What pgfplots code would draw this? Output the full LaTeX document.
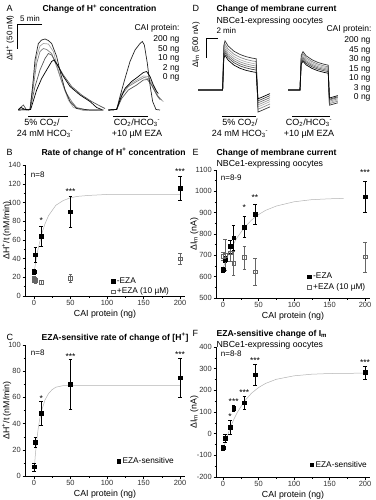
\documentclass[border=0pt]{standalone}
\usepackage{pgfplots}
\usepackage{pgfplotstable}
\pgfplotsset{compat=1.18}
\usepackage{fontspec}
\setmainfont{Liberation Sans}
\newcommand{\fs}[1]{\fontsize{#1}{#1}\selectfont}
\tikzset{sig/.style={font=\fs{8.5}, inner sep=0pt, anchor=south}}
\pgfplotstableread{
t     c200  c45   c30  c15  c10  c3   c0
0.5   0     0     0    0    0    0    0
4.6   0     0     0    0    0    0    0
4.8   1107  1035  981  927  882  837  783
5.0   1230  1150  1090 1030 980  930  870
5.5   1104  1027  967  910  860  810  750
6.5   969   895   835  781  731  681  621
7.5   888   816   756  703  653  603  543
8.5   834   763   703  652  602  552  492
9.5   798   728   668  617  567  517  457
10.2  780   710   650  600  550  500  440
10.5  -550  -480  -420 -370 -320 -270 -220
11.0  -520  -450  -390 -340 -290 -240 -190
12.5  -420  -350  -290 -240 -190 -140 -90
}\Done
\pgfplotstableread{
t     c200  c45  c30  c15  c10  c3   c0
15.5  0     0    0    0    0    0    0
17.5  0     0    0    0    0    0    0
17.7  864   819  783  747  720  684  648
18.0  960   910  870  830  800  760  720
18.5  858   811  774  737  707  670  630
19.5  756   712  678  644  614  580  540
20.5  688   646  614  582  552  520  480
21.5  644   603  572  542  512  481  441
22.2  620   580  550  520  490  460  420
22.4  -380  -340 -310 -280 -250 -230 -200
23.8  -320  -280 -250 -220 -190 -170 -140
}\Dtwo
\begin{document}
\begin{tikzpicture}
\path[use as bounding box] (0pt,0pt) rectangle (375pt,-500pt);
\pgfplotsset{
  dataax/.style={
    scale only axis, anchor=south west, clip=false,
    axis x line*=bottom, axis y line*=left,
    axis line style={black, line width=0.5pt, -},
    every outer x axis line/.append style={-},
    every outer y axis line/.append style={-},
    tick align=outside,
    major tick length=2.5pt, minor tick length=1.5pt,
    every tick/.style={black, line width=0.4pt},
    minor tick num=1,
    ticklabel style={font=\fs{7.5}, text=black!80},
    xticklabel style={inner sep=1.5pt},
    yticklabel style={inner sep=1.5pt},
    xlabel style={font=\fs{8.8}},
    every axis y label/.style={rotate=90, anchor=center, font=\fs{8.8}},
    /pgf/number format/assume math mode=true,
    /pgf/number format/1000 sep={},
    legend style={draw=none, fill=none, font=\fs{8.3}, row sep=-1pt, inner sep=1pt},
    legend cell align=left,
    xtick={0,50,...,200},
  },
  trace/.style={hide axis, scale only axis, anchor=south west, clip=false},
  fitline/.style={gray!60, line width=0.5pt, no marks, forget plot},
  filled/.style={only marks, mark=square*, mark size=1.8pt, black},
  open/.style={only marks, mark=square, mark size=1.8pt, black!60, mark options={fill=white}},
}

%%%%%%%%%%%%%%%% A
\begin{axis}[trace, at={(15pt,-115pt)}, width=150pt, height=85pt,
  xmin=0, xmax=30, ymin=-10, ymax=160]
\addplot[black!35, line width=0.7pt] coordinates {(0.67,0)(3,1)(3.67,60)(4.33,107)(5,128)(5.67,133)(6.67,132)(7.67,117)(8.67,80)(9.67,47)(10.67,20)(11.67,5)(13.67,-1)(17.67,0)};
\addplot[black!50, line width=0.7pt] coordinates {(0.67,0)(3,1)(3.67,47)(4.33,93)(5,117)(5.67,123)(6.33,121)(7.33,113)(8.33,87)(9.33,57)(10.33,33)(11.33,17)(12.33,5)(14.33,0)(17.67,0)};
\addplot[black!65, line width=0.7pt] coordinates {(0.67,1)(1.67,10)(2.33,0)(3,1)(4,47)(5,80)(6,103)(6.67,113)(7.33,110)(8.33,93)(9.67,70)(11.33,47)(13.33,30)(15.33,17)(17,8)(18,3)};
\addplot[black!85, line width=0.7pt] coordinates {(0.67,0)(3,1)(3.53,47)(4,100)(4.67,133)(5.33,140)(6,142)(6.67,139)(7.33,133)(8.33,107)(9.13,73)(10,40)(11,17)(12.33,3)(15,0)(17.67,0)};
\addplot[black, line width=0.7pt] coordinates {(0.67,0)(1.2,5)(1.8,2)(2.67,0)(3.13,1)(4.33,40)(5.33,63)(6.33,80)(7.33,97)(7.8,100)(8.67,87)(9.67,67)(11,47)(13,30)(15,17)(16.33,5)(17.33,1)};
% second pulse
\addplot[black!35, line width=0.7pt] coordinates {(18.67,0)(20.33,1)(21.33,33)(22.67,50)(24.33,60)(25.67,68)(26.67,67)(27.67,47)(28.67,25)(29.67,17)};
\addplot[black!50, line width=0.7pt] coordinates {(18.67,0)(20.33,1)(21.33,30)(22.67,47)(24.33,57)(25.8,65)(26.67,63)(27.67,43)(28.67,27)(29.33,20)};
\addplot[black!65, line width=0.7pt] coordinates {(18.67,0)(20.33,1)(21.33,23)(22.67,40)(24.33,50)(25.67,60)(26.47,61)(27.33,50)(28.33,30)(29,21)};
\addplot[black!85, line width=0.7pt] coordinates {(18.67,0)(20.33,1)(21,27)(22,63)(23,97)(24,120)(25,133)(25.47,137)(25.87,130)(26.47,93)(27,50)(27.53,17)(28.2,1)(29,0)};
\addplot[black, line width=0.7pt] coordinates {(18.67,0)(20.33,1)(21,20)(22,43)(23.33,57)(24.67,67)(25.67,75)(26.33,77)(27,67)(27.67,50)(28.33,37)(28.67,33)};
% scale bar and application bars
\draw[black, line width=0.5pt] (axis cs:5.4,172) -- (axis cs:0.4,172) -- (axis cs:0.4,122);
\draw[black, line width=0.5pt] (axis cs:2.6,-12) -- (axis cs:10.6,-12);
\draw[black, line width=0.5pt] (axis cs:19.6,-12) -- (axis cs:26.6,-12);
\end{axis}
\node[anchor=base west, font=\fs{9}] at (3pt,-12pt) {A};
\node[anchor=base west, font=\fs{8.6}\bfseries] at (39pt,-12pt) {Change of H\textsuperscript{+} concentration};
\node[anchor=base, font=\fs{8}] at (30pt,-22pt) {5 min};
\node[rotate=90, font=\fs{8}] at (10pt,-38pt) {ΔH\textsuperscript{+} (50 nM)};
\node[anchor=base east, font=\fs{8.5}] at (183pt,-31pt) {CAI protein:};
\node[anchor=base east, font=\fs{8.5}] at (183pt,-42pt) {200 ng};
\node[anchor=base east, font=\fs{8.5}] at (183pt,-51.5pt) {50 ng};
\node[anchor=base east, font=\fs{8.5}] at (183pt,-61pt) {10 ng};
\node[anchor=base east, font=\fs{8.5}] at (183pt,-70.5pt) {2 ng};
\node[anchor=base east, font=\fs{8.5}] at (183pt,-80pt) {0 ng};
\node[anchor=base, font=\fs{9}] at (42pt,-125pt) {5\% CO\textsubscript{2}/};
\node[anchor=base, font=\fs{9}] at (45pt,-136pt) {24 mM HCO\textsubscript{3}\textsuperscript{-}};
\node[anchor=base, font=\fs{9}] at (137pt,-125pt) {CO\textsubscript{2}/HCO\textsubscript{3}\textsuperscript{-}};
\node[anchor=base, font=\fs{9}] at (137pt,-136pt) {+10 µM EZA};

%%%%%%%%%%%%%%%% D
\begin{axis}[trace, at={(195pt,-120pt)}, width=150pt, height=90pt,
  xmin=0, xmax=25, ymin=-750, ymax=1500]
\addplot[black!30, line width=0.7pt] table[x=t,y=c30] {\Done};
\addplot[black!40, line width=0.7pt] table[x=t,y=c15] {\Done};
\addplot[black!45, line width=0.7pt] table[x=t,y=c45] {\Done};
\addplot[black!55, line width=0.7pt] table[x=t,y=c10] {\Done};
\addplot[black!70, line width=0.7pt] table[x=t,y=c3] {\Done};
\addplot[black!80, line width=0.7pt] table[x=t,y=c200] {\Done};
\addplot[black, line width=0.7pt] table[x=t,y=c0] {\Done};
\addplot[black!30, line width=0.7pt] table[x=t,y=c30] {\Dtwo};
\addplot[black!40, line width=0.7pt] table[x=t,y=c15] {\Dtwo};
\addplot[black!45, line width=0.7pt] table[x=t,y=c45] {\Dtwo};
\addplot[black!55, line width=0.7pt] table[x=t,y=c10] {\Dtwo};
\addplot[black!70, line width=0.7pt] table[x=t,y=c3] {\Dtwo};
\addplot[black!80, line width=0.7pt] table[x=t,y=c200] {\Dtwo};
\addplot[black, line width=0.7pt] table[x=t,y=c0] {\Dtwo};
\draw[black, line width=0.5pt] (axis cs:3.83,1300) -- (axis cs:1.83,1300) -- (axis cs:1.83,800);
\draw[black, line width=0.5pt] (axis cs:4.5,-650) -- (axis cs:10.2,-650);
\draw[black, line width=0.5pt] (axis cs:16.2,-650) -- (axis cs:22.5,-650);
\end{axis}
\node[anchor=base west, font=\fs{9}] at (189pt,-12pt) {D};
\node[anchor=base west, font=\fs{8.6}\bfseries] at (213pt,-12pt) {Change of membrane current};
\node[anchor=base west, font=\fs{8.8}] at (213pt,-23.5pt) {NBCe1-expressing oocytes};
\node[anchor=base west, font=\fs{8}] at (213pt,-34pt) {2 min};
\node[rotate=90, font=\fs{8}] at (196pt,-45pt) {ΔI\textsubscript{m} (500 nA)};
\node[anchor=base east, font=\fs{8.5}] at (375pt,-32pt) {CAI protein:};
\node[anchor=base east, font=\fs{8.5}] at (374pt,-43pt) {200 ng};
\node[anchor=base east, font=\fs{8.5}] at (374pt,-52.5pt) {45 ng};
\node[anchor=base east, font=\fs{8.5}] at (374pt,-62pt) {30 ng};
\node[anchor=base east, font=\fs{8.5}] at (374pt,-71.5pt) {15 ng};
\node[anchor=base east, font=\fs{8.5}] at (374pt,-81pt) {10 ng};
\node[anchor=base east, font=\fs{8.5}] at (374pt,-90.5pt) {3 ng};
\node[anchor=base east, font=\fs{8.5}] at (374pt,-100pt) {0 ng};
\node[anchor=base, font=\fs{9}] at (240pt,-125pt) {5\% CO\textsubscript{2}/};
\node[anchor=base, font=\fs{9}] at (240pt,-136pt) {24 mM HCO\textsubscript{3}\textsuperscript{-}};
\node[anchor=base, font=\fs{9}] at (309pt,-125pt) {CO\textsubscript{2}/HCO\textsubscript{3}\textsuperscript{-}};
\node[anchor=base, font=\fs{9}] at (309pt,-136pt) {+10 µM EZA};

%%%%%%%%%%%%%%%% B
\begin{axis}[dataax, at={(25pt,-296pt)}, width=160pt, height=131pt,
  xmin=-12.3, xmax=206.8, ymin=0, ymax=140, ytick={0,20,...,140},
  xlabel={CAI protein (ng)}, ylabel={ΔH\textsuperscript{+}/t (nM/min)},
  ylabel style={at={(axis description cs:-0.115,0.5)}},
  legend style={at={(0.92,-0.02)}, anchor=south east}]
\addplot[fitline] coordinates {(0,25)(5,48)(10,65)(15,77)(20,86)(30,97)(40,102)(50,105)(60,106.5)(75,107.5)(100,108.5)(150,108.7)(200,108.7)};
\addplot[filled, error bars/.cd, y dir=both, y explicit] coordinates {(0,26)+-(0,3) (2,44)+-(0,8) (10,64)+-(0,11) (50,90)+-(0,17) (200,115)+-(0,13)};
\addlegendentry{-EZA}
\addplot[open, error bars/.cd, y dir=both, y explicit] coordinates {(0,18)+-(0,3) (2,17)+-(0,3) (10,15)+-(0,2) (50,19)+-(0,4) (200,40)+-(0,6)};
\addlegendentry{+EZA (10 µM)}
\node[sig] at (axis cs:10,77) {*};
\node[sig] at (axis cs:50,108) {***};
\node[sig] at (axis cs:200,130) {***};
\node[anchor=west, font=\fs{8}] at (axis cs:-9,130) {n=8};
\end{axis}
\node[anchor=base west, font=\fs{9}] at (3pt,-155pt) {B};
\node[anchor=base west, font=\fs{8.6}\bfseries] at (38pt,-155pt) {Rate of change of H\textsuperscript{+} concentration};

%%%%%%%%%%%%%%%% C
\begin{axis}[dataax, at={(25pt,-476pt)}, width=160pt, height=131pt,
  xmin=-12.3, xmax=206.8, ymin=0, ymax=100, ytick={0,20,...,100},
  xlabel={CAI protein (ng)}, ylabel={ΔH\textsuperscript{+}/t (nM/min)},
  ylabel style={at={(axis description cs:-0.115,0.5)}},
  legend style={at={(0.95,0.06)}, anchor=south east}]
\addplot[fitline] coordinates {(0,3)(2,17)(4,28)(6,37)(8,44)(10,49)(15,58)(20,63)(25,66)(30,67.8)(40,69)(50,69)(100,69)(200,69)};
\addplot[filled, error bars/.cd, y dir=both, y explicit] coordinates {(0,7)+-(0,3) (2,26)+-(0,4) (10,48)+-(0,9) (50,70)+-(0,19) (200,75)+-(0,15)};
\addlegendentry{EZA-sensitive}
\node[sig] at (axis cs:10,57) {*};
\node[sig] at (axis cs:50,89) {***};
\node[sig] at (axis cs:200,90) {***};
\node[anchor=west, font=\fs{8}] at (axis cs:-9,94) {n=8};
\end{axis}
\node[anchor=base west, font=\fs{9}] at (3pt,-340pt) {C};
\node[anchor=base west, font=\fs{8.6}\bfseries] at (38pt,-340pt) {EZA-sensitive rate of change of [H\textsuperscript{+}]};

%%%%%%%%%%%%%%%% E
\begin{axis}[dataax, at={(216pt,-298pt)}, width=154pt, height=128pt,
  xmin=-9.9, xmax=207, ymin=500, ymax=1100, ytick={500,600,...,1100},
  xlabel={CAI protein (ng)}, ylabel={ΔI\textsubscript{m} (nA)},
  ylabel style={at={(axis description cs:-0.14,0.5)}},
  legend style={at={(0.99,0.03)}, anchor=south east}]
\addplot[fitline] coordinates {(0,640)(5,684)(10,722)(15,755)(20,784)(30,830)(40,865)(50,891)(60,911)(75,931)(100,951)(125,961)(150,965)(170,967)};
\addplot[filled, error bars/.cd, y dir=both, y explicit] coordinates {(0,632)+-(0,13) (3,683)+-(0,15) (10,742)+-(0,30) (15,782)+-(0,57) (30,833)+-(0,50) (45,893)+-(0,48) (200,975)+-(0,73)};
\addlegendentry{-EZA}
\addplot[open, error bars/.cd, y dir=both, y explicit] coordinates {(0,697)+-(0,20) (3,702)+-(0,72) (10,712)+-(0,40) (15,663)+-(0,58) (30,690)+-(0,55) (45,623)+-(0,65) (200,693)+-(0,70)};
\addlegendentry{+EZA (10 µM)}
\node[sig] at (axis cs:30,908) {*};
\node[sig] at (axis cs:45,955) {**};
\node[sig] at (axis cs:200,1075) {***};
\node[anchor=west, font=\fs{8}] at (axis cs:-8,1065) {n=8-9};
\end{axis}
\node[anchor=base west, font=\fs{9}] at (189pt,-155pt) {E};
\node[anchor=base west, font=\fs{8.6}\bfseries] at (213pt,-155pt) {Change of membrane current};
\node[anchor=base west, font=\fs{8.8}] at (213pt,-166.5pt) {NBCe1-expressing oocytes};

%%%%%%%%%%%%%%%% F
\begin{axis}[dataax, at={(216pt,-477pt)}, width=154pt, height=130pt,
  xmin=-9.9, xmax=207, ymin=-200, ymax=400, ytick={-200,-100,...,400},
  xlabel={CAI protein (ng)}, ylabel={ΔI\textsubscript{m} (nA)},
  ylabel style={at={(axis description cs:-0.14,0.5)}},
  legend style={at={(1.0,0.04)}, anchor=south east}]
\addplot[fitline] coordinates {(0,-75)(5,-20.5)(10,25.6)(15,64.7)(20,97.7)(30,149.4)(40,186.4)(50,213)(60,232)(75,251)(100,267)(125,274.5)(150,277.6)(200,279.5)};
\addplot[filled, error bars/.cd, y dir=both, y explicit] coordinates {(0,-65)+-(0,13) (3,-22)+-(0,18) (10,30)+-(0,32) (15,118)+-(0,15) (30,143)+-(0,28) (45,272)+-(0,48) (200,283)+-(0,30)};
\addlegendentry{EZA-sensitive}
\node[sig] at (axis cs:10,64) {*};
\node[sig] at (axis cs:15,136) {***};
\node[sig] at (axis cs:30,174) {***};
\node[sig] at (axis cs:45,322) {***};
\node[sig] at (axis cs:200,316) {***};
\node[anchor=west, font=\fs{8}] at (axis cs:-8,370) {n=8-8};
\end{axis}
\node[anchor=base west, font=\fs{9}] at (189pt,-336pt) {F};
\node[anchor=base west, font=\fs{8.6}\bfseries] at (213pt,-336pt) {EZA-sensitive change of I\textsubscript{m}};
\node[anchor=base west, font=\fs{8.8}] at (213pt,-347pt) {NBCe1-expressing oocytes};
\end{tikzpicture}
\end{document}
